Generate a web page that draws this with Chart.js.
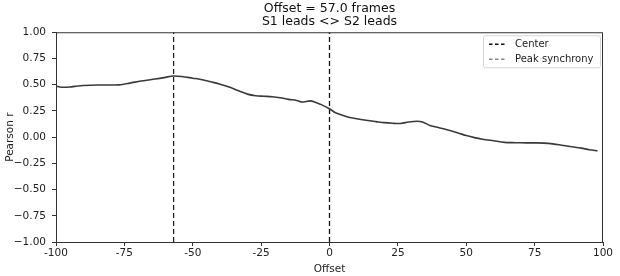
<!DOCTYPE html>
<html lang="en">
<head>
  <meta charset="UTF-8">
  <title>Pearson r vs offset</title>
  <script src="https://cdn.jsdelivr.net/npm/chart.js"></script>
  <style>
    html, body {
      margin: 0;
      padding: 0;
      background: #fff;
    }
    #wrap {
      width: 620px;
      height: 276px;
      position: relative;
    }
  </style>
</head>
<body>
  <div id="wrap"><canvas id="syncChart"></canvas></div>

  <script>
    // data
    const offsets = [-100, -98, -95, -92, -90, -85, -80, -77, -73, -69, -65, -61, -57, -54, -50, -47, -43, -40,
      -37, -33, -30, -27, -24, -21, -18, -15, -12, -10, -7, -5, -3, 0, 2, 4, 7, 10, 14, 17, 20, 23, 26, 29, 32,
      34, 37, 40, 43, 47, 50, 53, 56, 60, 64, 68, 72, 76, 80, 84, 88, 92, 95, 98];
    const pearsonR = [0.486, 0.476, 0.478, 0.488, 0.492, 0.497, 0.497, 0.498, 0.515, 0.535, 0.55, 0.565, 0.583,
      0.578, 0.562, 0.55, 0.525, 0.505, 0.48, 0.44, 0.41, 0.395, 0.39, 0.385, 0.375, 0.36, 0.35, 0.335, 0.346,
      0.33, 0.31, 0.27, 0.235, 0.215, 0.19, 0.175, 0.158, 0.148, 0.138, 0.132, 0.13, 0.145, 0.152, 0.145, 0.108,
      0.09, 0.07, 0.04, 0.015, -0.005, -0.02, -0.035, -0.05, -0.053, -0.055, -0.055, -0.06, -0.073, -0.09,
      -0.105, -0.12, -0.13];
    const centerOffset = 0;
    const peakOffset = -57;
    const xTicks = [-100, -75, -50, -25, 0, 25, 50, 75, 100];
    const yTicks = [-1, -0.75, -0.5, -0.25, 0, 0.25, 0.5, 0.75, 1];
    const legendLabels = ['Center', 'Peak synchrony'];
    const titleLines = ['Offset = ' + Math.abs(peakOffset).toFixed(1) + ' frames', 'S1 leads <> S2 leads'];

    const FONT = "'DejaVu Sans', sans-serif";
    Chart.defaults.font.family = FONT;
    Chart.defaults.color = '#222';

    const yMin = yTicks[0], yMax = yTicks[yTicks.length - 1];

    // frame around the plot (all four spines)
    const frame = {
      id: 'frame',
      afterDatasetsDraw(chart) {
        const { ctx, chartArea: a } = chart;
        ctx.save();
        ctx.strokeStyle = '#333';
        ctx.lineWidth = 1;
        ctx.strokeRect(a.left + 0.5, a.top + 0.5, a.right - a.left - 1, a.bottom - a.top);
        ctx.restore();
      }
    };

    // matplotlib-like legend box in the upper right
    const boxLegend = {
      id: 'boxLegend',
      afterDraw(chart) {
        const { ctx, chartArea: a } = chart;
        ctx.save();
        ctx.font = '10px ' + FONT;
        const textW = Math.max(...legendLabels.map(l => ctx.measureText(l).width));
        const w = Math.ceil(32 + textW + 6), h = 32;
        const x0 = a.right - w - 3, y0 = a.top + 3;
        ctx.fillStyle = 'rgba(255,255,255,0.85)';
        ctx.strokeStyle = '#d6d6d6';
        ctx.lineWidth = 1;
        ctx.beginPath();
        ctx.roundRect(x0 + 0.5, y0 + 0.5, w, h, 2);
        ctx.fill();
        ctx.stroke();
        const colors = ['#111', '#888'];
        ctx.textBaseline = 'middle';
        legendLabels.forEach((lab, i) => {
          const y = y0 + 9 + i * 15;
          ctx.strokeStyle = colors[i];
          ctx.lineWidth = 1.3;
          ctx.setLineDash([3.5, 2.5]);
          ctx.beginPath();
          ctx.moveTo(x0 + 6, y);
          ctx.lineTo(x0 + 23, y);
          ctx.stroke();
          ctx.setLineDash([]);
          ctx.fillStyle = '#222';
          ctx.fillText(lab, x0 + 32, y);
        });
        ctx.restore();
      }
    };

    const ctx = document.getElementById('syncChart').getContext('2d');

    const chart = new Chart(ctx, {
      type: 'line',
      data: {
        datasets: [
          {
            label: 'Pearson r',
            data: offsets.map((o, i) => ({ x: o, y: pearsonR[i] })),
            borderColor: '#3a3a3a',
            borderWidth: 1.6,
            pointRadius: 0,
            tension: 0.3,
            fill: false
          },
          {
            label: legendLabels[0],
            data: [{ x: centerOffset, y: yMin }, { x: centerOffset, y: yMax }],
            borderColor: '#111',
            borderWidth: 1.3,
            borderDash: [5, 3],
            pointRadius: 0
          },
          {
            label: legendLabels[1],
            data: [{ x: peakOffset, y: yMin }, { x: peakOffset, y: yMax }],
            borderColor: '#222',
            borderWidth: 1.3,
            borderDash: [5, 3],
            pointRadius: 0
          }
        ]
      },
      plugins: [frame, boxLegend],
      options: {
        responsive: true,
        maintainAspectRatio: false,
        animation: false,
        layout: {
          padding: { left: 0, right: 17, top: 1, bottom: 0 }
        },
        plugins: {
          legend: { display: false },
          tooltip: { enabled: false },
          title: {
            display: true,
            fullSize: false,
            text: titleLines,
            color: '#111',
            font: { size: 12.5, weight: 'normal', lineHeight: 1.05 },
            padding: { top: 1, bottom: 4 }
          }
        },
        scales: {
          x: {
            type: 'linear',
            min: xTicks[0],
            max: xTicks[xTicks.length - 1],
            afterBuildTicks(scale) { scale.ticks = xTicks.map(v => ({ value: v })); },
            afterFit(scale) { scale.height = 34; },
            ticks: {
              font: { size: 10.5 },
              color: '#222',
              padding: 1,
              maxRotation: 0,
              callback: v => String(v)
            },
            grid: { display: true, drawOnChartArea: false, drawTicks: true, tickLength: 4, color: '#333' },
            border: { display: true, color: '#333' },
            title: { display: true, text: 'Offset', font: { size: 10.5 }, color: '#222', padding: { top: 0, bottom: 0 } }
          },
          y: {
            min: yMin,
            max: yMax,
            afterBuildTicks(scale) { scale.ticks = yTicks.map(v => ({ value: v })); },
            afterFit(scale) { scale.width = 56; },
            ticks: {
              font: { size: 10.5 },
              color: '#222',
              padding: 6,
              callback: v => (v < 0 ? '\u2212' : '') + Math.abs(v).toFixed(2)
            },
            grid: { display: true, drawOnChartArea: false, drawTicks: true, tickLength: 4, color: '#333' },
            border: { display: true, color: '#333' },
            title: { display: true, text: 'Pearson r', font: { size: 10.5 }, color: '#222', padding: { top: 4, bottom: 2 } }
          }
        }
      }
    });
  </script>
</body>
</html>
